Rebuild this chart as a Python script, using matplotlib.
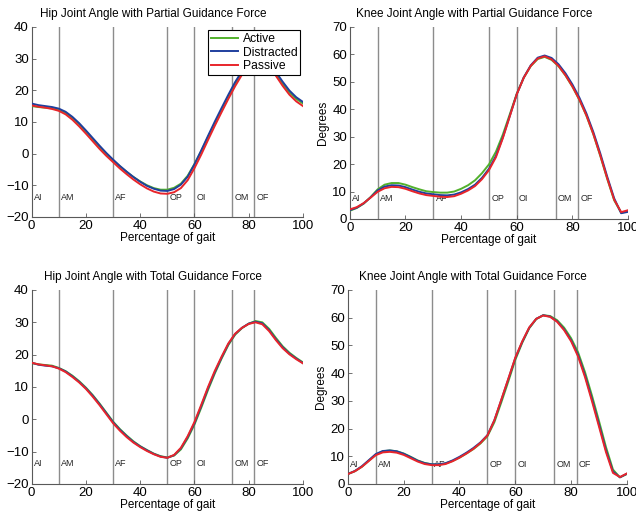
import numpy as np
import matplotlib
matplotlib.use("Agg")
import matplotlib.pyplot as plt

plt.rcParams['font.family'] = ['Liberation Sans', 'DejaVu Sans']

# percentage of gait, sampled every 2.5 %
gait = np.arange(0, 100.1, 2.5)

# gait phase boundaries and their labels
phase_pos = [10, 30, 50, 60, 74, 82]
phase_labels = ["AI", "AM", "AF", "OP", "OI", "OM", "OF"]
label_x = [0.8, 10.8, 30.8, 50.8, 60.8, 74.8, 82.8]

series_names = ["Active", "Distracted", "Passive"]

# Hip, partial guidance force
hip_partial_active = [15.0, 14.7, 14.5, 14.3, 13.9, 12.9, 11.3, 9.3, 7.0, 4.6, 2.2, 0.0, -2.1, -4.0, -5.8, -7.4,
                      -8.8, -10.0, -10.9, -11.4, -11.4, -10.8, -9.5, -7.0, -3.3, 0.8, 5.2, 9.6, 13.8, 18.0, 22.0,
                      25.5, 28.3, 29.8, 29.6, 27.8, 25.0, 22.0, 19.3, 17.3, 15.8]
hip_partial_distracted = [15.8, 15.3, 15.0, 14.7, 14.2, 13.2, 11.6, 9.6, 7.3, 4.9, 2.5, 0.2, -1.9, -3.9, -5.7, -7.4,
                          -8.9, -10.2, -11.1, -11.7, -11.8, -11.2, -9.8, -7.3, -3.4, 1.0, 5.6, 10.1, 14.4, 18.6, 22.6,
                          26.0, 28.8, 30.3, 30.2, 28.5, 25.8, 22.7, 19.9, 17.8, 16.3]
hip_partial_passive = [15.2, 14.8, 14.5, 14.1, 13.5, 12.4, 10.7, 8.6, 6.3, 3.9, 1.5, -0.7, -2.7, -4.7, -6.5, -8.2,
                       -9.7, -11.0, -12.0, -12.6, -12.7, -12.2, -10.9, -8.4, -4.6, -0.3, 4.3, 8.8, 13.1, 17.3, 21.3,
                       24.9, 27.8, 29.4, 29.3, 27.5, 24.6, 21.4, 18.6, 16.5, 15.0]

# Knee, partial guidance force
knee_partial_active = [3.0, 4.0, 5.6, 8.0, 10.8, 12.5, 13.1, 13.1, 12.5, 11.6, 10.8, 10.1, 9.8, 9.6, 9.6, 10.0,
                       11.0, 12.3, 14.1, 16.7, 19.9, 24.5, 30.8, 38.2, 45.7, 51.5, 55.7, 58.3, 59.1, 58.0, 55.7,
                       52.3, 48.2, 43.4, 37.7, 30.9, 23.0, 14.6, 6.8, 2.3, 2.8]
knee_partial_distracted = [3.2, 4.1, 5.7, 7.9, 10.4, 11.8, 12.3, 12.2, 11.6, 10.7, 9.9, 9.3, 9.0, 8.7, 8.6, 8.9,
                           9.7, 10.9, 12.5, 15.0, 18.3, 23.0, 29.8, 37.6, 45.5, 51.6, 56.0, 58.8, 59.6, 58.7, 56.4,
                           53.1, 49.0, 44.2, 38.5, 31.7, 23.9, 15.4, 7.5, 2.1, 2.6]
knee_partial_passive = [3.5, 4.3, 5.8, 7.8, 9.9, 11.2, 11.7, 11.6, 11.0, 10.1, 9.3, 8.7, 8.4, 8.1, 8.0, 8.3,
                        9.2, 10.4, 12.0, 14.5, 17.8, 22.5, 29.5, 37.5, 45.5, 51.5, 55.8, 58.5, 59.3, 58.2, 55.8,
                        52.4, 48.3, 43.5, 37.8, 31.0, 23.2, 14.8, 7.0, 2.5, 3.2]

# Hip, total guidance force
hip_total_active = [17.4, 17.0, 16.8, 16.6, 15.9, 14.9, 13.5, 11.8, 9.8, 7.5, 4.9, 2.1, -0.7, -3.0, -5.0, -6.8,
                    -8.3, -9.5, -10.6, -11.4, -11.8, -11.2, -9.3, -5.9, -1.6, 3.6, 9.1, 14.2, 18.8, 23.0, 26.2,
                    28.2, 29.6, 30.4, 30.0, 28.0, 25.2, 22.6, 20.6, 19.0, 17.6]
hip_total_distracted = [17.5, 16.9, 16.6, 16.4, 15.8, 14.8, 13.3, 11.6, 9.6, 7.3, 4.7, 1.9, -0.9, -3.2, -5.2, -7.0,
                        -8.4, -9.6, -10.7, -11.5, -11.9, -11.1, -9.0, -5.5, -1.2, 4.1, 9.6, 14.6, 19.1, 23.3, 26.4,
                        28.3, 29.6, 30.2, 29.7, 27.6, 24.8, 22.3, 20.3, 18.8, 17.4]
hip_total_passive = [17.5, 17.0, 16.7, 16.4, 15.7, 14.6, 13.1, 11.4, 9.4, 7.0, 4.4, 1.6, -1.2, -3.5, -5.5, -7.2,
                     -8.6, -9.8, -10.8, -11.6, -11.9, -11.0, -8.8, -5.2, -0.8, 4.5, 10.0, 15.0, 19.4, 23.5, 26.5,
                     28.3, 29.5, 30.0, 29.4, 27.3, 24.5, 22.0, 20.1, 18.6, 17.3]

# Knee, total guidance force
knee_total_active = [3.6, 4.6, 6.2, 8.4, 10.6, 11.8, 12.1, 11.8, 11.0, 9.8, 8.5, 7.6, 7.1, 7.0, 7.4, 8.3,
                     9.5, 11.0, 12.6, 14.6, 17.2, 22.3, 29.5, 37.0, 44.8, 51.0, 56.2, 59.5, 60.9, 60.6, 59.1,
                     56.4, 52.6, 47.5, 40.3, 31.8, 22.7, 13.3, 5.2, 2.4, 3.6]
knee_total_distracted = [3.6, 4.7, 6.4, 8.6, 10.8, 11.9, 12.1, 11.8, 10.9, 9.7, 8.4, 7.5, 7.1, 7.1, 7.5, 8.5,
                         9.8, 11.3, 13.0, 15.0, 17.6, 23.0, 30.3, 37.8, 45.4, 51.3, 56.4, 59.6, 60.9, 60.4, 58.7,
                         55.8, 51.9, 46.6, 39.2, 30.6, 21.5, 12.2, 4.5, 2.4, 3.7]
knee_total_passive = [3.6, 4.6, 6.2, 8.3, 10.4, 11.4, 11.6, 11.3, 10.5, 9.3, 8.1, 7.2, 6.8, 6.8, 7.2, 8.2,
                      9.5, 11.0, 12.7, 14.8, 17.5, 23.0, 30.5, 38.0, 45.6, 51.5, 56.5, 59.6, 60.8, 60.3, 58.5,
                      55.5, 51.5, 46.0, 38.5, 29.8, 20.7, 11.5, 4.0, 2.5, 3.8]

colors = ["#52b12c", "#1f3f9e", "#e8252b"]

fig = plt.figure(figsize=(6.36, 5.14), dpi=100)

panels = [
    ([0.0498, 0.578, 0.4266, 0.3696], "Hip Joint Angle with Partial Guidance Force",
     [hip_partial_active, hip_partial_distracted, hip_partial_passive], (-20, 40), -14, False, True),
    ([0.550, 0.574, 0.4376, 0.3735], "Knee Joint Angle with Partial Guidance Force",
     [knee_partial_active, knee_partial_distracted, knee_partial_passive], (0, 70), 7.3, True, False),
    ([0.0498, 0.0584, 0.4266, 0.3774], "Hip Joint Angle with Total Guidance Force",
     [hip_total_active, hip_total_distracted, hip_total_passive], (-20, 40), -13.8, False, False),
    ([0.547, 0.0584, 0.4387, 0.3774], "Knee Joint Angle with Total Guidance Force",
     [knee_total_active, knee_total_distracted, knee_total_passive], (0, 70), 7.1, True, False),
]

for rect, title, data, ylim, label_y, knee, show_legend in panels:
    ax = fig.add_axes(rect)
    for p in phase_pos:
        ax.axvline(p, color="0.55", lw=1.0, zorder=1)
    for lx, lab in zip(label_x, phase_labels):
        ax.text(lx, label_y, lab, fontsize=6.5, va="center", ha="left", color="0.15", zorder=2)
    for vals, name, c in zip(data, series_names, colors):
        ax.plot(gait, vals, color=c, lw=1.4, label=name, zorder=3)
    ax.set_xlim(0, 100)
    ax.set_ylim(*ylim)
    ax.set_xticks(np.arange(0, 101, 20))
    ax.set_yticks(np.arange(ylim[0], ylim[1] + 1, 10))
    for s in ["top", "right"]:
        ax.spines[s].set_visible(False)
    for s in ["left", "bottom"]:
        ax.spines[s].set_color("0.35")
        ax.spines[s].set_linewidth(0.8)
    ax.tick_params(direction="in", length=3, width=0.6, color="0.35", labelsize=9.5, pad=2)
    ax.set_title(title, fontsize=8.5, x=0.447, pad=7)
    ax.set_xlabel("Percentage of gait", fontsize=8.5, labelpad=0)
    if knee:
        ax.set_ylabel("Degrees", fontsize=8.5, labelpad=2)
    if show_legend:
        leg = ax.legend(loc="upper right", bbox_to_anchor=(0.99, 0.985), fontsize=8.7, frameon=True,
                        fancybox=False, framealpha=1, edgecolor="black", handlelength=2.2,
                        borderpad=0.25, labelspacing=0.15, handletextpad=0.4, borderaxespad=0)
        leg.get_frame().set_linewidth(0.8)
        leg.set_zorder(5)

fig.savefig("out.png", dpi=100)
